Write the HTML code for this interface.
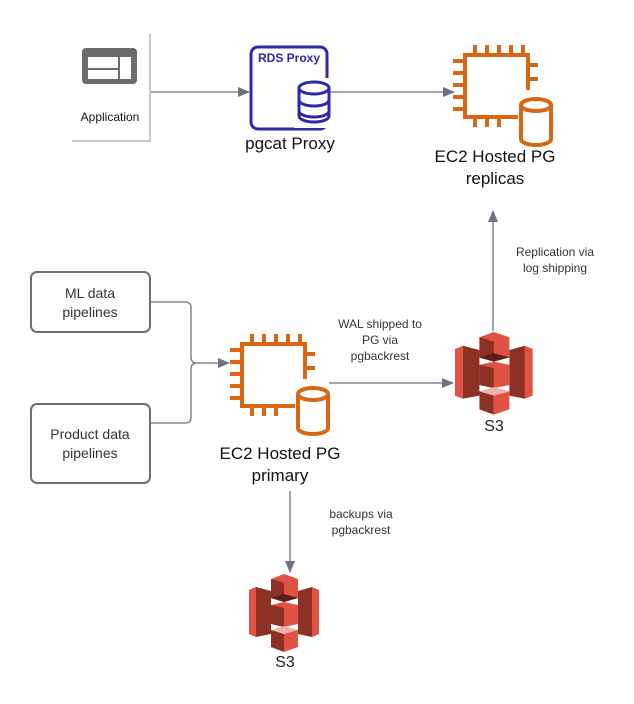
<!DOCTYPE html>
<html><head><meta charset="utf-8"><style>
html,body{margin:0;padding:0;background:#fff;}
svg{display:block;}
text{font-family:"Liberation Sans",sans-serif;}
</style></head><body>
<svg width="634" height="704" viewBox="0 0 634 704" xmlns="http://www.w3.org/2000/svg">
<defs>
<marker id="ar" markerWidth="12" markerHeight="10" refX="11" refY="5" orient="auto" markerUnits="userSpaceOnUse">
<path d="M0,0 L12,5 L0,10 Z" fill="#6b7280"/></marker>
<g id="s3">
 <polygon points="0,16 7,13 7,63 0,60" fill="#e05243"/>
 <polygon points="7,13 22,17 22,60 7,63" fill="#8c3123"/>
 <polygon points="49,17 63,13 63,63 49,60" fill="#8c3123"/>
 <polygon points="63,13 70,16 70,60 63,63" fill="#e05243"/>
 <polygon points="22,5 35,0 49,5 49,24 35,28 22,24" fill="#e05243"/>
 <polygon points="22,5 35,9 35,28 22,24" fill="#8c3123"/>
 <polygon points="22,24 35,20 49,24 35,28" fill="#5e1f18"/>
 <polygon points="22,31 35,28 49,31 49,50 35,53 22,50" fill="#e05243"/>
 <polygon points="22,31 35,34 35,53 22,50" fill="#8c3123"/>
 <polygon points="22,56 35,52 49,56 35,60" fill="#f2b0a9"/>
 <polygon points="22,56 35,60 35,78 22,73" fill="#8c3123"/>
 <polygon points="35,60 49,56 49,73 35,78" fill="#e05243"/>
</g>
<g id="ec2" fill="none" stroke="#d86613" stroke-width="4">
 <path d="M55,64 L2,64 L2,2 L65,2 L65,37"/>
 <path d="M12,-8v10M24,-8v10M36,-8v10M48,-8v10M60,-8v10"/>
 <path d="M-10,8h12M-10,20h12M-10,32h12M-10,44h12M-10,56h12"/>
 <path d="M65,12h10M65,26h10"/>
 <path d="M12,64v10M24,64v10M36,64v10"/>
 <path d="M58,52 v34 a15,6 0 0 0 30,0 v-34"/>
 <ellipse cx="73" cy="52" rx="15" ry="6"/>
</g>
</defs>

<!-- Application -->
<rect x="70" y="32" width="80" height="110" fill="#fff"/>
<path d="M150,34 V141 H72" fill="none" stroke="#c8c8c8" stroke-width="2"/>
<rect x="82" y="48" width="55" height="36" rx="4" fill="#6b6b6b"/>
<rect x="88" y="57" width="30" height="11" fill="#fff"/>
<rect x="88" y="70" width="30" height="9" fill="#fff"/>
<rect x="120" y="57" width="11" height="22" fill="#fff"/>
<text x="110" y="121" font-size="12" text-anchor="middle" fill="#111">Application</text>

<!-- RDS proxy -->
<rect x="251" y="47" width="76" height="82" rx="7" fill="none" stroke="#2e27ad" stroke-width="3"/>
<rect x="294" y="78" width="40" height="50" fill="#fff"/>
<text x="289" y="62" font-size="12" font-weight="bold" text-anchor="middle" fill="#2e27ad">RDS Proxy</text>
<g fill="none" stroke="#2e27ad" stroke-width="3">
<path d="M299,88 v28 a15,6 0 0 0 30,0 v-28"/>
<ellipse cx="314" cy="88" rx="15" ry="6"/>
<path d="M299,100 a15,6 0 0 0 30,0 M299,111 a15,6 0 0 0 30,0"/>
</g>
<text x="290" y="149" font-size="17" text-anchor="middle" fill="#111">pgcat Proxy</text>

<!-- arrows top -->
<line x1="151" y1="92" x2="249" y2="92" stroke="#6b7280" stroke-width="1.3" marker-end="url(#ar)"/>
<line x1="330" y1="92" x2="454" y2="92" stroke="#6b7280" stroke-width="1.3" marker-end="url(#ar)"/>

<!-- replica EC2 -->
<use href="#ec2" transform="translate(463,53)"/>
<text x="495" y="162" font-size="17" text-anchor="middle" fill="#111">EC2 Hosted PG</text>
<text x="495" y="184" font-size="17" text-anchor="middle" fill="#111">replicas</text>

<!-- pipelines -->
<rect x="31" y="272" width="119" height="60" rx="6" fill="#fff" stroke="#6b6f78" stroke-width="2"/>
<text x="90" y="298" font-size="14" text-anchor="middle" fill="#333">ML data</text>
<text x="90" y="317" font-size="14" text-anchor="middle" fill="#333">pipelines</text>
<rect x="31" y="404" width="119" height="79" rx="6" fill="#fff" stroke="#6b6f78" stroke-width="2"/>
<text x="90" y="439" font-size="14" text-anchor="middle" fill="#333">Product data</text>
<text x="90" y="458" font-size="14" text-anchor="middle" fill="#333">pipelines</text>
<path d="M151,302 H186 a5,5 0 0 1 5,5 V358 a5,5 0 0 0 5,5 H229" fill="none" stroke="#6b7280" stroke-width="1.3" marker-end="url(#ar)"/>
<path d="M151,423 H186 a5,5 0 0 0 5,-5 V368 a5,5 0 0 1 5,-5" fill="none" stroke="#6b7280" stroke-width="1.3"/>

<!-- primary EC2 -->
<use href="#ec2" transform="translate(240,342)"/>
<text x="280" y="459" font-size="17" text-anchor="middle" fill="#111">EC2 Hosted PG</text>
<text x="280" y="481" font-size="17" text-anchor="middle" fill="#111">primary</text>

<!-- WAL -->
<line x1="329" y1="383" x2="453" y2="383" stroke="#6b7280" stroke-width="1.3" marker-end="url(#ar)"/>
<g font-size="12" fill="#333" text-anchor="middle">
<text x="380" y="328">WAL shipped to</text>
<text x="380" y="344">PG via</text>
<text x="380" y="360">pgbackrest</text>
<text x="555" y="256">Replication via</text>
<text x="555" y="272">log shipping</text>
<text x="361" y="518">backups via</text>
<text x="361" y="534">pgbackrest</text>
</g>

<!-- right S3 -->
<use href="#s3" transform="translate(455,332) scale(1.11,1.06)"/>
<text x="494" y="431" font-size="16" text-anchor="middle" fill="#222">S3</text>
<line x1="493" y1="331" x2="493" y2="211" stroke="#6b7280" stroke-width="1.3" marker-end="url(#ar)"/>

<!-- lower S3 -->
<line x1="290" y1="491" x2="290" y2="572" stroke="#6b7280" stroke-width="1.3" marker-end="url(#ar)"/>
<use href="#s3" transform="translate(249,574)"/>
<text x="285" y="667" font-size="16" text-anchor="middle" fill="#222">S3</text>
</svg>
</body></html>
